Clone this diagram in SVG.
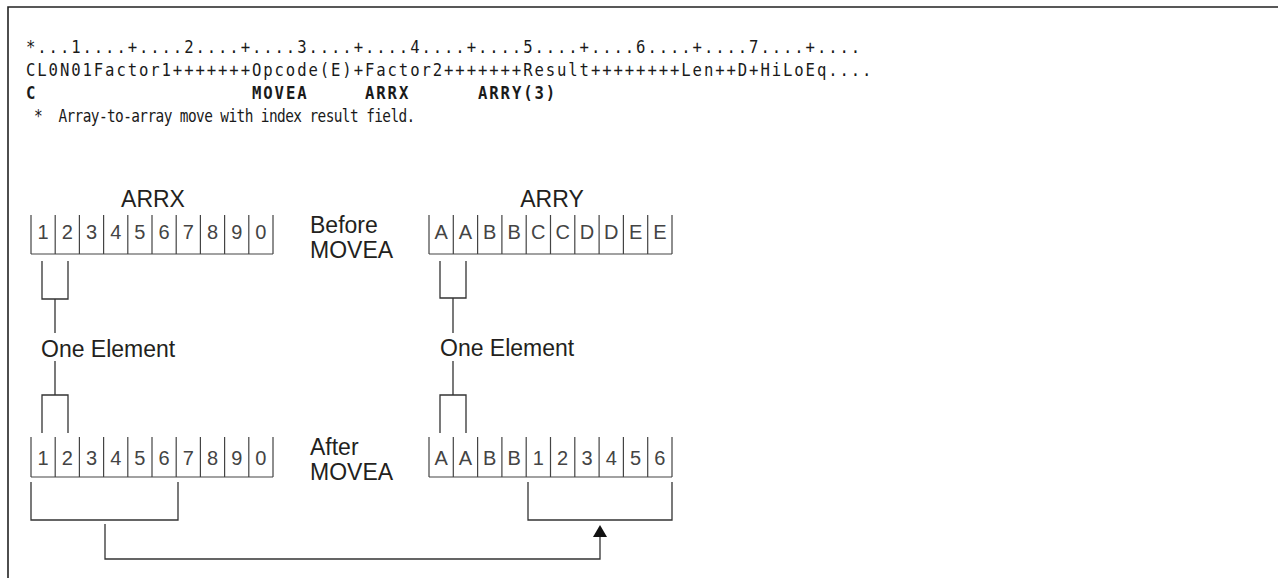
<svg xmlns="http://www.w3.org/2000/svg" width="1278" height="578" viewBox="0 0 1278 578">
<style>
.mono{font-family:"DejaVu Sans Mono","Liberation Mono",monospace;font-size:17px;letter-spacing:2.05px;fill:#1a1a1a}
.cmt{font-family:"DejaVu Sans Mono","Liberation Mono",monospace;font-size:17px;letter-spacing:-0.7px;fill:#1a1a1a}
.b{font-weight:bold}
.lbl{font-family:"Liberation Sans",Arial,sans-serif;font-size:23px;fill:#231f20}
.cell{font-family:"Liberation Sans",Arial,sans-serif;font-size:20px;fill:#444;text-anchor:middle}
.grid{fill:none;stroke:#444;stroke-width:1.2}
.ln{fill:none;stroke:#333;stroke-width:1.3}
.frame{fill:none;stroke:#222;stroke-width:1.6}
</style>
<rect width="1278" height="578" fill="#fff"/>
<path class="frame" d="M8 578V7H1278"/>

<g id="code">
<g transform="scale(0.92,1)">
<text class="mono" x="28.26" y="53">*...1....+....2....+....3....+....4....+....5....+....6....+....7....+....</text>
<text class="mono" x="28.26" y="76">CL0N01Factor1+++++++Opcode(E)+Factor2+++++++Result++++++++Len++D+HiLoEq....</text>
<text class="mono b" x="28.26" y="99">C</text>
<text class="mono b" x="273.91" y="99">MOVEA</text>
<text class="mono b" x="396.74" y="99">ARRX</text>
<text class="mono b" x="519.57" y="99">ARRY(3)</text>
</g>
<g transform="scale(0.85,1)">
<text class="cmt" x="30.59" y="122" xml:space="preserve"> *  Array-to-array move with index result field.</text>
</g>
</g>

<g id="labels">
<text class="lbl" x="153" y="207" text-anchor="middle">ARRX</text>
<text class="lbl" x="552" y="207" text-anchor="middle">ARRY</text>
<text class="lbl" x="310" y="233">Before</text>
<text class="lbl" x="310" y="258">MOVEA</text>
<text class="lbl" x="310" y="455">After</text>
<text class="lbl" x="310" y="480">MOVEA</text>
</g>

<g id="arrx-before">
<path class="grid" d="M31 215V254M55.2 215V254M79.4 215V254M103.6 215V254M127.8 215V254M152 215V254M176.2 215V254M200.4 215V254M224.6 215V254M248.8 215V254M273 215V254M31 254H273"/>
<text class="cell" y="239"><tspan x="43.1">1</tspan><tspan x="67.3">2</tspan><tspan x="91.5">3</tspan><tspan x="115.7">4</tspan><tspan x="139.9">5</tspan><tspan x="164.1">6</tspan><tspan x="188.3">7</tspan><tspan x="212.5">8</tspan><tspan x="236.7">9</tspan><tspan x="260.9">0</tspan></text>
</g>

<g id="arry-before">
<path class="grid" d="M429 215V254M453.3 215V254M477.6 215V254M501.9 215V254M526.2 215V254M550.5 215V254M574.8 215V254M599.1 215V254M623.4 215V254M647.7 215V254M672 215V254M429 254H672"/>
<text class="cell" y="239"><tspan x="441.15">A</tspan><tspan x="465.45">A</tspan><tspan x="489.75">B</tspan><tspan x="514.05">B</tspan><tspan x="538.35">C</tspan><tspan x="562.65">C</tspan><tspan x="586.95">D</tspan><tspan x="611.25">D</tspan><tspan x="635.55">E</tspan><tspan x="659.85">E</tspan></text>
</g>

<g id="arrx-after">
<path class="grid" d="M31 437V477M55.2 437V477M79.4 437V477M103.6 437V477M127.8 437V477M152 437V477M176.2 437V477M200.4 437V477M224.6 437V477M248.8 437V477M273 437V477M31 477H273"/>
<text class="cell" y="465"><tspan x="43.1">1</tspan><tspan x="67.3">2</tspan><tspan x="91.5">3</tspan><tspan x="115.7">4</tspan><tspan x="139.9">5</tspan><tspan x="164.1">6</tspan><tspan x="188.3">7</tspan><tspan x="212.5">8</tspan><tspan x="236.7">9</tspan><tspan x="260.9">0</tspan></text>
</g>

<g id="arry-after">
<path class="grid" d="M429 437V477M453.3 437V477M477.6 437V477M501.9 437V477M526.2 437V477M550.5 437V477M574.8 437V477M599.1 437V477M623.4 437V477M647.7 437V477M672 437V477M429 477H672"/>
<text class="cell" y="465"><tspan x="441.15">A</tspan><tspan x="465.45">A</tspan><tspan x="489.75">B</tspan><tspan x="514.05">B</tspan><tspan x="538.35">1</tspan><tspan x="562.65">2</tspan><tspan x="586.95">3</tspan><tspan x="611.25">4</tspan><tspan x="635.55">5</tspan><tspan x="659.85">6</tspan></text>
</g>

<g id="one-element-x">
<text class="lbl" x="41" y="357">One Element</text>
</g>
<g id="one-element-y">
<text class="lbl" x="440" y="356">One Element</text>
</g>

<g id="connectors">
<path class="ln" d="M42 261V299H68V261M55 299V333M55 361V395M42 433V395H68V433"/>
<path class="ln" d="M440 261V298H466V261M453 298V333M453 361V395M440 433V395H466V433"/>
<path class="ln" d="M31 482V520H178V482M528 482V520H672V482"/>
<path class="ln" d="M105 524V559H600V536"/>
<polygon points="593,537 607,537 600,525" fill="#111"/>
</g>
</svg>
